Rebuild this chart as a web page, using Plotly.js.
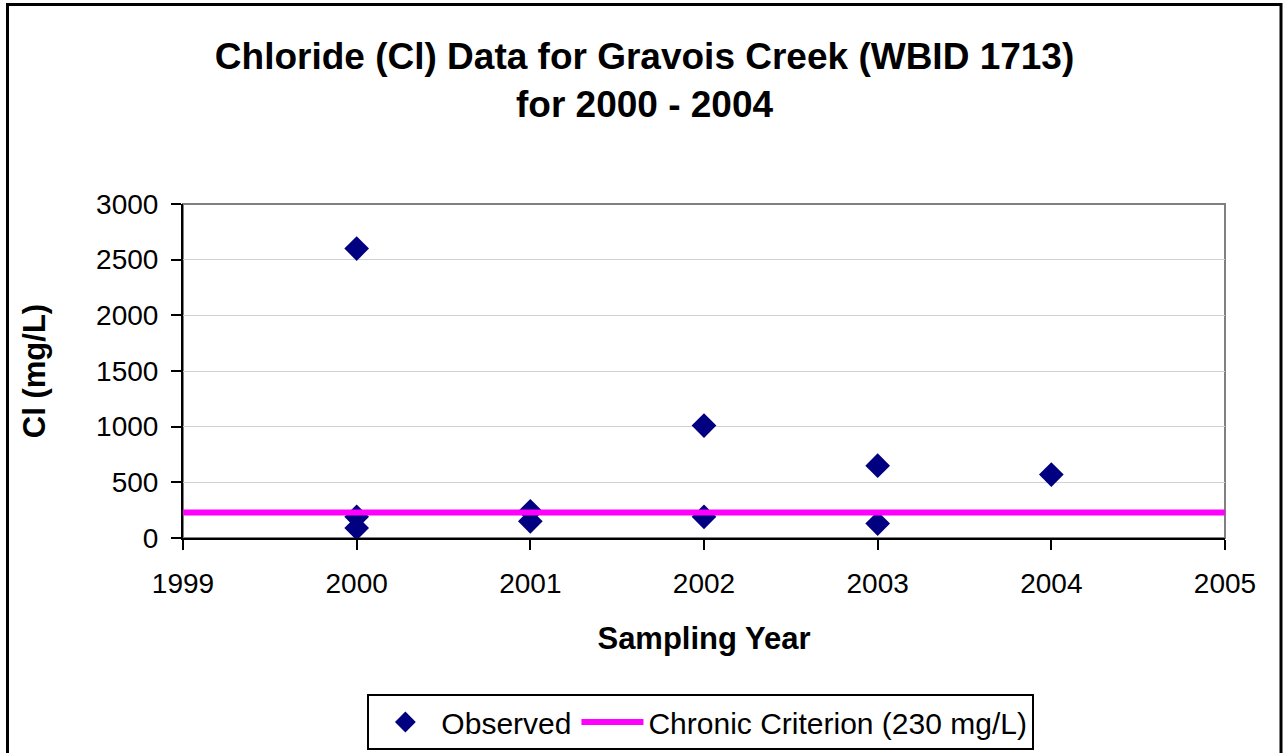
<!DOCTYPE html>
<html>
<head>
<meta charset="utf-8">
<script src="https://cdn.plot.ly/plotly-3.0.1.min.js"></script>
<style>html,body{margin:0;padding:0;background:#fff;}#chart{width:1284px;height:753px;}</style>
</head>
<body>
<div id="chart"></div>
<script>
const obsYears = [2000, 2000, 2000, 2001, 2001, 2002, 2002, 2003, 2003, 2004];
const obsValues = [2600, 190, 90, 240, 150, 1010, 190, 650, 130, 570];
const criterionYears = [1999, 2000, 2001, 2002, 2003, 2004, 2005];
const criterionValues = [230, 230, 230, 230, 230, 230, 230];
const xTicks = [1999, 2000, 2001, 2002, 2003, 2004, 2005];
const yTicks = [0, 500, 1000, 1500, 2000, 2500, 3000];

const FONT = 'Arial, "Liberation Sans", sans-serif';

const traces = [
  {
    x: obsYears, y: obsValues, type: 'scatter', mode: 'markers', name: 'Observed',
    marker: {symbol: 'diamond', size: 19, color: '#000080', line: {width: 0}}
  },
  {
    x: criterionYears, y: criterionValues, type: 'scatter', mode: 'lines',
    name: 'Chronic Criterion (230 mg/L)',
    line: {color: '#FF00FF', width: 6}
  }
];

const layout = {
  width: 1284, height: 753,
  margin: {l: 183, r: 59, t: 204, b: 215, autoexpand: false},
  paper_bgcolor: '#fff', plot_bgcolor: '#fff',
  font: {family: FONT, color: '#000', size: 28},
  title: {
    text: '<b>Chloride (Cl) Data for Gravois Creek (WBID 1713)<br>for 2000 - 2004</b>',
    font: {family: FONT, size: 37, color: '#000'},
    xref: 'container', x: 0.502, xanchor: 'center',
    yref: 'container', y: 1 - 69 / 753, yanchor: 'top'
  },
  xaxis: {
    range: [1999, 2005], tickvals: xTicks, ticktext: xTicks.map(String),
    automargin: false,
    showgrid: false, zeroline: false,
    showline: true, linecolor: '#000', linewidth: 2, mirror: false,
    ticks: 'outside', ticklen: 10, tickwidth: 2, tickcolor: '#000',
    tickfont: {family: FONT, size: 28},
    ticklabelstandoff: 9,
    title: {text: '<b>Sampling Year</b>', font: {family: FONT, size: 31}, standoff: 30}
  },
  yaxis: {
    range: [0, 3000], tickvals: yTicks,
    automargin: false,
    showgrid: true, gridcolor: '#d0d0d0', gridwidth: 1, zeroline: false,
    showline: true, linecolor: '#000', linewidth: 2,
    ticks: 'outside', ticklen: 10, tickwidth: 2, tickcolor: '#000',
    tickfont: {family: FONT, size: 28},
    ticklabelstandoff: 7,
    title: {text: '<b>Cl (mg/L)</b>', font: {family: FONT, size: 31}, standoff: 41}
  },
  showlegend: true,
  legend: {
    orientation: 'h', x: 0.497, xanchor: 'center', xref: 'paper',
    y: (538 - 694) / 334, yanchor: 'top',
    bordercolor: '#000', borderwidth: 2, bgcolor: '#fff',
    font: {family: FONT, size: 30},
    itemwidth: 62
  },
  shapes: [
    {type: 'rect', xref: 'paper', yref: 'paper', x0: 0, x1: 1, y0: 0, y1: 1,
     line: {color: '#808080', width: 2}, layer: 'below'},
    {type: 'rect', xref: 'paper', yref: 'paper',
     x0: (7.5 - 183) / 1042, x1: (1281 - 183) / 1042,
     y0: (538 - 760) / 334, y1: (538 - 4.5) / 334,
     line: {color: '#000', width: 3}, fillcolor: 'rgba(0,0,0,0)'}
  ]
};

Plotly.newPlot('chart', traces, layout, {displayModeBar: false, staticPlot: true});
</script>
</body>
</html>
